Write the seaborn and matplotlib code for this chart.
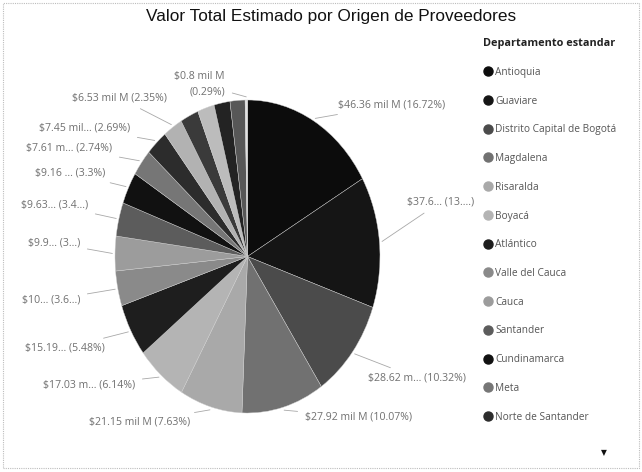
import numpy as np
import pandas as pd
import matplotlib
matplotlib.use("Agg")
import matplotlib.pyplot as plt
import seaborn as sns
from matplotlib.lines import Line2D
from matplotlib.patches import Rectangle

# ---------------- data ----------------
departamentos = [
    "Antioquia", "Guaviare", "Distrito Capital de Bogot\u00e1", "Magdalena",
    "Risaralda", "Boyac\u00e1", "Atl\u00e1ntico", "Valle del Cauca", "Cauca",
    "Santander", "Cundinamarca", "Meta", "Norte de Santander",
    "Bol\u00edvar", "Tolima", "Huila", "Nari\u00f1o", "Caldas", "Quind\u00edo",
]
valores = [46.36, 37.6, 28.62, 27.92, 21.15, 17.03, 15.19, 10.0, 9.9,
           9.63, 9.16, 7.61, 7.45, 6.53, 6.2, 5.7, 5.4, 5.05, 0.8]
etiquetas = [
    "$46.36 mil M (16.72%)", "$37.6\u2026 (13.\u2026)", "$28.62 m\u2026 (10.32%)",
    "$27.92 mil M (10.07%)", "$21.15 mil M (7.63%)", "$17.03 m\u2026 (6.14%)",
    "$15.19\u2026 (5.48%)", "$10\u2026 (3.6\u2026)", "$9.9\u2026 (3\u2026)",
    "$9.63\u2026 (3.4\u2026)", "$9.16 \u2026 (3.3%)", "$7.61 m\u2026 (2.74%)",
    "$7.45 mil\u2026 (2.69%)", "$6.53 mil M (2.35%)", None, None, None, None,
    "$0.8 mil M\n(0.29%)",
]
legend_count = 13

# ---------------- style / layout ----------------
colores = ["#0c0c0c", "#151515", "#4b4b4b", "#717171", "#a9a9a9", "#b4b4b4",
           "#1e1e1e", "#8a8a8a", "#9c9c9c", "#5c5c5c", "#111111", "#767676",
           "#2c2c2c", "#b2b2b2", "#3a3a3a", "#bcbcbc", "#232323", "#575757",
           "#e2e2e2"]
# text anchor positions in image pixels (x, y, horizontal alignment)
label_pos = [
    (338, 105, "left"), (407, 202, "left"), (368, 378, "left"),
    (305, 417, "left"), (190, 422, "right"), (135, 385, "right"),
    (105, 348, "right"), (80, 300, "right"), (80, 243, "right"),
    (88, 205, "right"), (105, 173, "right"), (112, 148, "right"),
    (130, 128, "right"), (167, 98, "right"), None, None, None, None,
    (225, 84, "right"),
]

W, H = 642, 472
sns.set_theme(style="white")
plt.rcParams["font.family"] = ["Open Sans", "DejaVu Sans"]

fig = plt.figure(figsize=(W / 100, H / 100), dpi=100)
fig.patch.set_facecolor("white")

# pie axes (slightly stretched vertically as in the reference)
px_l, px_r, px_t, px_b = 115, 380, 100, 413
ax = fig.add_axes([px_l / W, (H - px_b) / H, (px_r - px_l) / W, (px_b - px_t) / H])
wedges, _ = ax.pie(valores, colors=colores, startangle=90, counterclock=False,
                   radius=1.0, wedgeprops=dict(edgecolor="#cfcfcf", linewidth=0.3))
ax.set_aspect("auto")
ax.set_xlim(-1, 1)
ax.set_ylim(-1, 1)
ax.axis("off")

# data labels with leader lines
for w, lab, pos in zip(wedges, etiquetas, label_pos):
    if lab is None or pos is None:
        continue
    mid = np.deg2rad((w.theta1 + w.theta2) / 2)
    xr, yr = 1.02 * np.cos(mid), 1.02 * np.sin(mid)
    x, y, ha = pos
    ax.annotate(lab, xy=(xr, yr), xycoords="data",
                xytext=(x, H - y), textcoords="figure pixels",
                ha=ha, va="center", fontsize=7.6, color="#707070",
                linespacing=1.55, multialignment=ha if ha != "center" else "center",
                annotation_clip=False,
                arrowprops=dict(arrowstyle="-", color="#a8a8a8", lw=0.6,
                                shrinkA=3, shrinkB=0))

# title
fig.text(331 / W, 1 - 17 / H, "Valor Total Estimado por Origen de Proveedores",
         ha="center", va="center", fontsize=12.4, color="#111111",
         family=["Liberation Sans", "DejaVu Sans"])

# legend
handles = [Line2D([], [], marker="o", ls="", color=c, markersize=6.5)
           for c in colores[:legend_count]]
leg = fig.legend(handles, departamentos[:legend_count], loc="upper left",
                 bbox_to_anchor=(479 / W, 1 - 34 / H), frameon=False,
                 title="Departamento estandar", alignment="left",
                 handletextpad=0.3, handlelength=0.9, borderaxespad=0,
                 labelspacing=1.75, fontsize=7.3, labelcolor="#555555",
                 title_fontproperties={"weight": "bold", "size": 7.8})
leg.get_title().set_color("#222222")

fig.text(604 / W, 1 - 453 / H, "\u25bc", ha="center", va="center",
         fontsize=5.5, color="#111111", family=["DejaVu Sans"])

# faint frame of the visual
fig.patches.append(Rectangle((3 / W, 4 / H), 1 - 6 / W, 1 - 7 / H,
                             transform=fig.transFigure, fill=False,
                             ec="#bdbdbd", lw=0.8, ls=(0, (1, 1))))

fig.savefig("out.png", dpi=100)
